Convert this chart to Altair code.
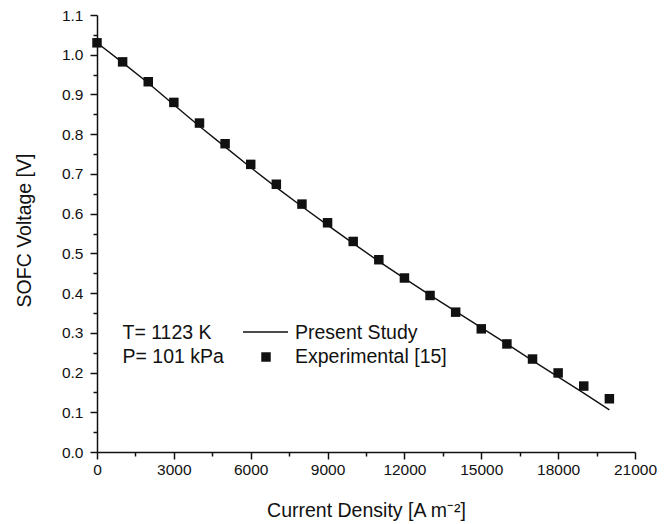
import altair as alt
import pandas as pd

# ---- data ----
current = [0, 1000, 2000, 3000, 4000, 5000, 6000, 7000, 8000, 9000, 10000,
           11000, 12000, 13000, 14000, 15000, 16000, 17000, 18000, 19000, 20000]
exp_voltage = [1.030, 0.982, 0.932, 0.880, 0.828, 0.776, 0.724, 0.674, 0.624, 0.577, 0.530,
               0.484, 0.438, 0.394, 0.352, 0.310, 0.272, 0.234, 0.199, 0.166, 0.134]
model_voltage = [1.030, 0.980, 0.929, 0.874, 0.820, 0.768, 0.716, 0.666, 0.618, 0.571, 0.525,
                 0.480, 0.437, 0.395, 0.354, 0.313, 0.272, 0.230, 0.189, 0.148, 0.106]
x_major_ticks = [0, 3000, 6000, 9000, 12000, 15000, 18000, 21000]
x_minor_ticks = [1500, 4500, 7500, 10500, 13500, 16500, 19500]
y_major_ticks = [0.0, 0.1, 0.2, 0.3, 0.4, 0.5, 0.6, 0.7, 0.8, 0.9, 1.0, 1.1]
y_minor_ticks = [0.05, 0.15, 0.25, 0.35, 0.45, 0.55, 0.65, 0.75, 0.85, 0.95, 1.05]
condition_texts = ["T= 1123 K", "P= 101 kPa"]
legend_labels = ["Present Study", "Experimental [15]"]

FONT = "Liberation Sans"
INK = "#111111"

df_exp = pd.DataFrame({"j": current, "v": exp_voltage})
df_model = pd.DataFrame({"j": current, "v": model_voltage})

x_scale = alt.Scale(domain=[0, 21000], nice=False, zero=False)
y_scale = alt.Scale(domain=[0, 1.1], nice=False, zero=False)

x_major = alt.X(
    "j:Q", scale=x_scale,
    axis=alt.Axis(
        orient="bottom",
        values=x_major_ticks,
        format="d",
        tickSize=7,
        labelPadding=3,
        labelOverlap=False,
        labelFlush=False,
        labelBound=False,
        title="Current Density [A m\u207b\u00b2]",
        titleX=269,
        titleY=64,
        titleAlign="center",
        titleBaseline="alphabetic",
    ),
)
y_major = alt.Y(
    "v:Q", scale=y_scale,
    axis=alt.Axis(
        orient="left",
        values=y_major_ticks,
        format=".1f",
        tickSize=7,
        labelPadding=7,
        labelOverlap=False,
        labelFlush=False,
        labelBound=False,
        title="SOFC Voltage [V]",
        titleAngle=270,
        titleX=-67,
        titleY=215,
        titleAlign="center",
        titleBaseline="alphabetic",
    ),
)
x_minor = alt.X(
    "j:Q", scale=x_scale,
    axis=alt.Axis(orient="bottom", values=x_minor_ticks, tickSize=4, labels=False,
                  domain=False, title=None),
)
y_minor = alt.Y(
    "v:Q", scale=y_scale,
    axis=alt.Axis(orient="left", values=y_minor_ticks, tickSize=4, labels=False,
                  domain=False, title=None),
)

model = alt.Chart(df_model).mark_line(color=INK, strokeWidth=1.4).encode(x=x_major, y=y_major)
points = alt.Chart(df_exp).mark_square(color=INK, size=90, opacity=1).encode(x=x_minor, y=y_minor)

layers = [model, points]

# annotation / legend block
for i, txt in enumerate(condition_texts):
    layers.append(
        alt.Chart(pd.DataFrame({"t": [txt]})).mark_text(
            font=FONT, fontSize=19.5, color=INK, align="left", baseline="alphabetic"
        ).encode(text="t:N", x=alt.value(25.5), y=alt.value(324 + 24 * i))
    )
for i, lab in enumerate(legend_labels):
    layers.append(
        alt.Chart(pd.DataFrame({"t": [lab]})).mark_text(
            font=FONT, fontSize=19.5, color=INK, align="left", baseline="alphabetic"
        ).encode(text="t:N", x=alt.value(198), y=alt.value(324 + 24 * i))
    )
layers.append(
    alt.Chart(pd.DataFrame({"t": [legend_labels[0]]})).mark_rule(color=INK, strokeWidth=1.4)
    .encode(x=alt.value(146), x2=alt.value(191), y=alt.value(317))
)
layers.append(
    alt.Chart(pd.DataFrame({"t": [legend_labels[1]]})).mark_square(color=INK, size=90, opacity=1)
    .encode(x=alt.value(169), y=alt.value(342))
)

chart = (
    alt.layer(*layers)
    .resolve_axis(x="independent", y="independent")
    .properties(
        width=538,
        height=437,
        autosize=alt.AutoSizeParams(type="none"),
        padding={"left": 97, "top": 15, "right": 37, "bottom": 72},
        background="white",
    )
    .configure_view(stroke=None)
    .configure_axis(
        grid=False,
        domainColor=INK,
        domainWidth=1.5,
        tickColor=INK,
        tickWidth=1.5,
        labelFont=FONT,
        labelFontSize=15.5,
        labelColor=INK,
        titleFont=FONT,
        titleFontSize=19.5,
        titleFontWeight="normal",
        titleColor=INK,
    )
)

chart.save("out.html", embed_options={"renderer": "svg", "actions": False})
